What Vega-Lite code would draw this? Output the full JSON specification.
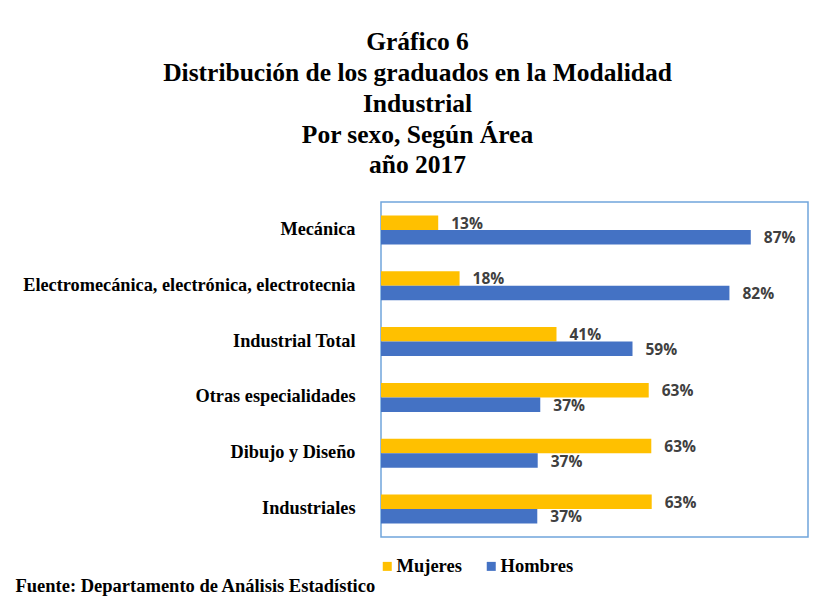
{
  "$schema": "https://vega.github.io/schema/vega-lite/v6.json",
  "autosize": {"type": "none"},
  "width": 427,
  "height": 335,
  "padding": {"left": 381, "top": 202, "right": 12, "bottom": 67},
  "background": "white",
  "title": {
    "text": ["Gráfico 6", "Distribución de los graduados en la Modalidad", "Industrial", "Por sexo, Según Área", "año 2017"],
    "font": "Liberation Serif",
    "fontWeight": "bold",
    "fontSize": 25.5,
    "lineHeight": 30.8,
    "color": "black",
    "anchor": "middle",
    "frame": "group",
    "dx": -177,
    "offset": 23
  },
  "data": {
    "values": [
      {"area": "Mecánica", "sexo": "Mujeres", "valor": 0.134},
      {"area": "Mecánica", "sexo": "Hombres", "valor": 0.866},
      {"area": "Electromecánica, electrónica, electrotecnia", "sexo": "Mujeres", "valor": 0.184},
      {"area": "Electromecánica, electrónica, electrotecnia", "sexo": "Hombres", "valor": 0.816},
      {"area": "Industrial Total", "sexo": "Mujeres", "valor": 0.411},
      {"area": "Industrial Total", "sexo": "Hombres", "valor": 0.589},
      {"area": "Otras especialidades", "sexo": "Mujeres", "valor": 0.627},
      {"area": "Otras especialidades", "sexo": "Hombres", "valor": 0.373},
      {"area": "Dibujo y Diseño", "sexo": "Mujeres", "valor": 0.633},
      {"area": "Dibujo y Diseño", "sexo": "Hombres", "valor": 0.367},
      {"area": "Industriales", "sexo": "Mujeres", "valor": 0.634},
      {"area": "Industriales", "sexo": "Hombres", "valor": 0.366}
    ]
  },
  "encoding": {
    "y": {
      "field": "area",
      "type": "nominal",
      "sort": ["Mecánica", "Electromecánica, electrónica, electrotecnia", "Industrial Total", "Otras especialidades", "Dibujo y Diseño", "Industriales"],
      "scale": {"paddingInner": 0.48, "paddingOuter": 0.24},
      "axis": {
        "title": null,
        "domain": false,
        "ticks": false,
        "labelFont": "Liberation Serif",
        "labelFontWeight": "bold",
        "labelFontSize": 18.3,
        "labelColor": "black",
        "labelPadding": 26,
        "labelLimit": 400
      }
    },
    "yOffset": {"field": "sexo", "type": "nominal", "sort": ["Mujeres", "Hombres"]},
    "x": {
      "field": "valor",
      "type": "quantitative",
      "scale": {"domain": [0, 1], "nice": false},
      "axis": {
        "title": "Fuente: Departamento de Análisis Estadístico",
        "titleFont": "Liberation Serif",
        "titleFontWeight": "bold",
        "titleFontSize": 18.5,
        "titleColor": "black",
        "titleAnchor": "start",
        "titleAlign": "left",
        "titleBaseline": "alphabetic",
        "titleX": -366,
        "titleY": 54,
        "labels": false,
        "ticks": false,
        "domain": false,
        "grid": false
      }
    }
  },
  "layer": [
    {
      "mark": {"type": "bar"},
      "encoding": {
        "color": {
          "field": "sexo",
          "type": "nominal",
          "sort": ["Mujeres", "Hombres"],
          "scale": {"domain": ["Mujeres", "Hombres"], "range": ["#FFC000", "#4472C4"]},
          "legend": {
            "title": null,
            "orient": "none",
            "direction": "horizontal",
            "legendX": -3,
            "legendY": 355,
            "padding": 0,
            "symbolType": "square",
            "symbolSize": 81,
            "symbolStrokeWidth": 0,
            "labelFont": "Liberation Serif",
            "labelFontWeight": "bold",
            "labelFontSize": 18.5,
            "labelColor": "black",
            "labelOffset": 0,
            "columnPadding": 20
          }
        }
      }
    },
    {
      "mark": {
        "type": "text",
        "align": "left",
        "baseline": "middle",
        "dx": 13,
        "dy": 1,
        "font": "Open Sans",
        "fontWeight": "bold",
        "fontSize": 15.5,
        "color": "#404040"
      },
      "encoding": {
        "text": {"field": "valor", "type": "quantitative", "format": ".0%"}
      }
    }
  ],
  "config": {
    "view": {"stroke": "#70A5DC", "strokeWidth": 1.5},
    "axis": {"grid": false}
  }
}
